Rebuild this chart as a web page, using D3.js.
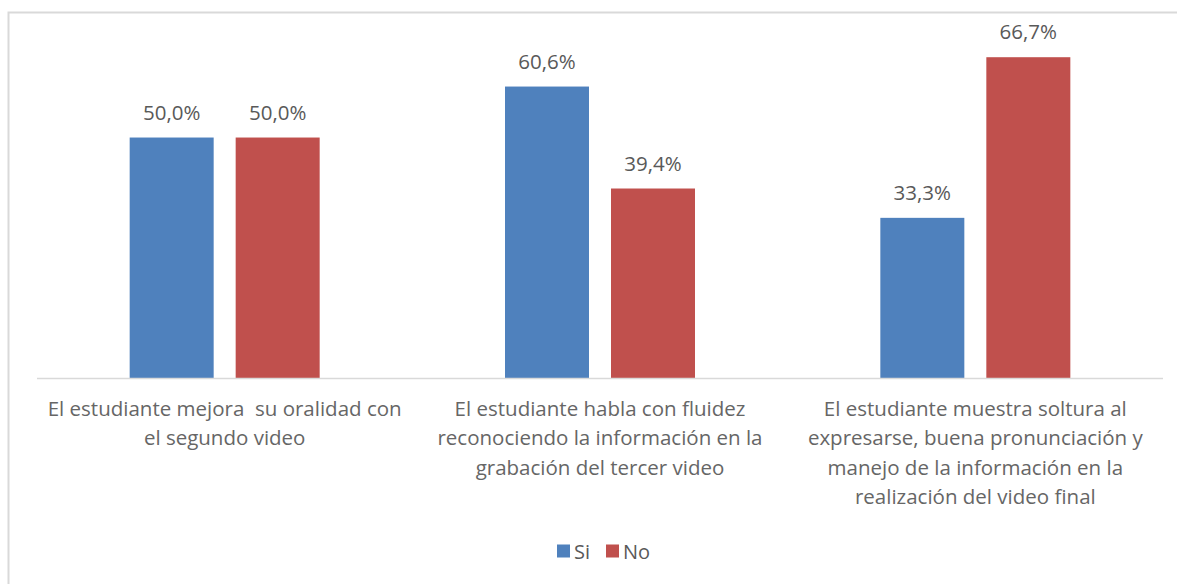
<!DOCTYPE html>
<html>
<head>
<meta charset="utf-8">
<script src="https://cdn.jsdelivr.net/npm/d3@7"></script>
<style>
  body { margin: 0; background: #fff; }
  text { font-family: "Open Sans", Lato, sans-serif; white-space: pre; }
</style>
</head>
<body>
<div id="chart"></div>
<script>
// data
var categories = ["c1", "c2", "c3"];
var categoryLines = [
  ["El estudiante mejora  su oralidad con", "el segundo video"],
  ["El estudiante habla con fluidez", "reconociendo la información en la", "grabación del tercer video"],
  ["El estudiante muestra soltura al", "expresarse, buena pronunciación y", "manejo de la información en la", "realización del video final"]
];
var seriesNames = ["Si", "No"];
var siValues = [50.0, 60.6, 33.3];
var noValues = [50.0, 39.4, 66.7];
var colors = ["#4F81BD", "#C0504D"];

var W = 1177, H = 584;
var margin = {top: 12, right: 14, bottom: 206, left: 37};
var width = W - margin.left - margin.right,
    height = H - margin.top - margin.bottom;

var svg = d3.select("#chart").append("svg")
  .attr("width", W)
  .attr("height", H);

// outer frame (runs off the right and bottom edge)
svg.append("rect")
  .attr("x", 8.5).attr("y", 12.5)
  .attr("width", W + 20).attr("height", H + 20)
  .attr("fill", "none")
  .attr("stroke", "#d9d9d9")
  .attr("stroke-width", 2);

var g = svg.append("g")
  .attr("transform", `translate(${margin.left}, ${margin.top})`);

var x0 = d3.scaleBand()
  .domain(categories)
  .range([0, width])
  .paddingInner(0)
  .paddingOuter(0);

var x1 = d3.scaleBand()
  .domain(seriesNames)
  .range([x0.bandwidth() / 2 - 95, x0.bandwidth() / 2 + 95])
  .paddingInner(22 / 106)
  .paddingOuter(0);

var y = d3.scaleLinear()
  .domain([0, 76.1])
  .range([height, 0]);

var rows = categories.map((c, i) => ({cat: c, vals: [siValues[i], noValues[i]]}));

var groups = g.selectAll(".grp")
  .data(rows)
  .enter().append("g")
  .attr("transform", d => `translate(${x0(d.cat)},0)`);

groups.selectAll("rect")
  .data(d => d.vals.map((v, j) => ({name: seriesNames[j], v: v, j: j})))
  .enter().append("rect")
  .attr("x", d => x1(d.name))
  .attr("y", d => y(d.v))
  .attr("width", x1.bandwidth())
  .attr("height", d => height - y(d.v))
  .attr("fill", d => colors[d.j]);

groups.selectAll(".lbl")
  .data(d => d.vals.map((v, j) => ({name: seriesNames[j], v: v})))
  .enter().append("text")
  .attr("class", "lbl")
  .attr("x", d => x1(d.name) + x1.bandwidth() / 2)
  .attr("y", d => y(d.v) - 18)
  .attr("text-anchor", "middle")
  .attr("fill", "#595959")
  .style("font-size", "20.5px")
  .text(d => d.v.toFixed(1).replace(".", ",") + "%");

// axis line
g.append("line")
  .attr("x1", 0).attr("x2", width)
  .attr("y1", height + 0.5).attr("y2", height + 0.5)
  .attr("stroke", "#d9d9d9")
  .attr("stroke-width", 1.5);

// category labels
categories.forEach(function(c, i) {
  var t = g.append("text")
    .attr("text-anchor", "middle")
    .attr("fill", "#666666")
    .style("font-size", "20.5px");
  categoryLines[i].forEach(function(line, k) {
    t.append("tspan")
      .attr("x", x0(c) + x0.bandwidth() / 2)
      .attr("y", height + 38 + k * 29.3)
      .text(line);
  });
});

// legend
var legend = svg.append("g").attr("transform", "translate(557, 551)");
var lx = [0, 49];
seriesNames.forEach(function(s, i) {
  legend.append("rect")
    .attr("x", lx[i]).attr("y", -6.5)
    .attr("width", 13).attr("height", 13)
    .attr("fill", colors[i]);
  legend.append("text")
    .attr("x", lx[i] + 17).attr("y", 7.5)
    .attr("fill", "#595959")
    .style("font-size", "20px")
    .text(s);
});
</script>
</body>
</html>
